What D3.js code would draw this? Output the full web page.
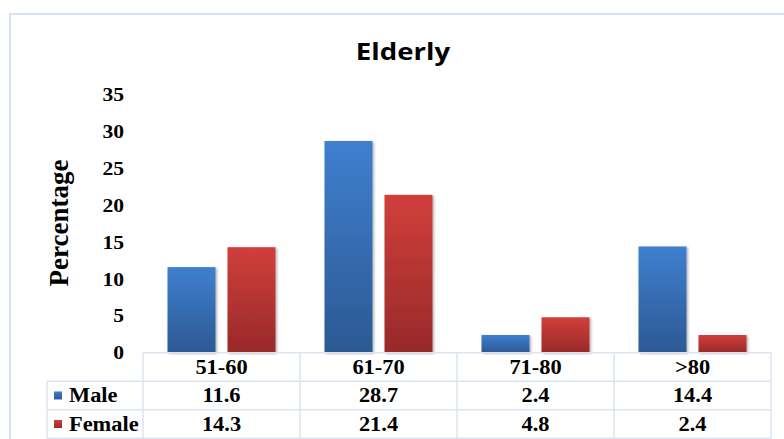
<!DOCTYPE html>
<html>
<head>
<meta charset="utf-8">
<script src="https://cdn.jsdelivr.net/npm/d3@7"></script>
<style>
  html, body { margin: 0; padding: 0; background: #fff; }
  svg { display: block; }
</style>
</head>
<body>
<svg id="chart" width="784" height="439"></svg>
<script>
// ---- data ----
const title = "Elderly";
const yLabel = "Percentage";
const categories = ["51-60", "61-70", "71-80", ">80"];
const seriesNames = ["Male", "Female"];
const maleValues = [11.6, 28.7, 2.4, 14.4];
const femaleValues = [14.3, 21.4, 4.8, 2.4];
const yTicks = [0, 5, 10, 15, 20, 25, 30, 35];

const seriesValues = [maleValues, femaleValues];
const colors = {
  Male: { top: "#3f7fcf", bottom: "#2c5993" },
  Female: { top: "#d13f3b", bottom: "#98292a" }
};

const svg = d3.select("#chart");
const W = 784, H = 439;
const serif = "'Liberation Serif', 'Times New Roman', serif";
const sans = "'Open Sans', 'Noto Sans', sans-serif";
const gridColor = "#dbe5f2";

// ---- defs ----
const defs = svg.append("defs");
seriesNames.forEach(s => {
  const g = defs.append("linearGradient").attr("id", "grad-" + s)
    .attr("x1", 0).attr("y1", 0).attr("x2", 0).attr("y2", 1);
  g.append("stop").attr("offset", "0%").attr("stop-color", colors[s].top);
  g.append("stop").attr("offset", "100%").attr("stop-color", colors[s].bottom);
});
const f = defs.append("filter").attr("id", "shadow")
  .attr("x", "-20%").attr("y", "-5%").attr("width", "140%").attr("height", "115%");
f.append("feDropShadow").attr("dx", 1.5).attr("dy", 1).attr("stdDeviation", 1.2)
  .attr("flood-color", "#000").attr("flood-opacity", 0.3);

// ---- outer frame ----
svg.append("rect").attr("x", 10).attr("y", 14).attr("width", W).attr("height", H)
  .attr("fill", "none").attr("stroke", "#d5e2f3").attr("stroke-width", 2);

// ---- scales ----
const tableLeft = 143, tableRight = 771, legendLeft = 47;
const y = d3.scaleLinear().domain([0, 35]).range([352.7, 94.5]);
const x = d3.scaleBand().domain(categories).range([tableLeft, tableRight]).paddingInner(0).paddingOuter(0);
const bw = x.bandwidth();
const groupW = 108;
const xInner = d3.scaleBand().domain(seriesNames)
  .range([bw / 2 - groupW / 2, bw / 2 + groupW / 2]).paddingInner(0.2).paddingOuter(0);

// helper for horizontally stretched text
function stretchedText(sel, tx, ty, sx) {
  return sel.attr("transform", `translate(${tx},${ty}) scale(${sx},1)`);
}

// ---- title ----
stretchedText(svg.append("text"), 403, 59.5, 1.15)
  .attr("text-anchor", "middle").attr("font-family", sans).attr("font-weight", "bold")
  .attr("font-size", 24).attr("fill", "#000").text(title);

// ---- y axis ticks (labels only) ----
const yAxis = d3.axisLeft(y).tickValues(yTicks).tickSize(0).tickPadding(0).tickFormat(d3.format("d"));
const yg = svg.append("g").attr("transform", "translate(124,0)").call(yAxis);
yg.select(".domain").remove();
yg.selectAll(".tick text")
  .attr("font-family", serif).attr("font-weight", "bold").attr("font-size", 18)
  .attr("fill", "#000").attr("x", 0).attr("dy", "0.34em")
  .attr("transform", "scale(1.2,1)");

// ---- y label ----
svg.append("text")
  .attr("transform", "translate(68,223) rotate(-90)")
  .attr("text-anchor", "middle").attr("font-family", serif).attr("font-weight", "bold")
  .attr("font-size", 27).attr("fill", "#000").text(yLabel);

// ---- bars ----
const barData = [];
categories.forEach((c, i) => {
  seriesNames.forEach((s, j) => barData.push({ cat: c, series: s, value: seriesValues[j][i] }));
});
svg.append("g").selectAll("rect").data(barData).join("rect")
  .attr("x", d => x(d.cat) + xInner(d.series))
  .attr("y", d => y(d.value))
  .attr("width", xInner.bandwidth())
  .attr("height", d => y(0) - y(d.value))
  .attr("fill", d => `url(#grad-${d.series})`)
  .attr("filter", "url(#shadow)");

// ---- data table ----
const rowH = 28.5;
const r0 = y(0);
const rows = [r0, r0 + rowH, r0 + 2 * rowH, r0 + 3 * rowH];
const tg = svg.append("g").attr("stroke", gridColor).attr("stroke-width", 1.5).attr("fill", "none");
// horizontal lines
tg.append("line").attr("x1", tableLeft).attr("x2", tableRight).attr("y1", rows[0]).attr("y2", rows[0]);
[rows[1], rows[2], rows[3]].forEach(ry =>
  tg.append("line").attr("x1", legendLeft).attr("x2", tableRight).attr("y1", ry).attr("y2", ry));
// vertical lines
tg.append("line").attr("x1", legendLeft).attr("x2", legendLeft).attr("y1", rows[1]).attr("y2", H + 5);
categories.forEach(c =>
  tg.append("line").attr("x1", x(c)).attr("x2", x(c)).attr("y1", rows[0]).attr("y2", H + 5));
tg.append("line").attr("x1", tableRight).attr("x2", tableRight).attr("y1", rows[0]).attr("y2", H + 5);

// category labels
categories.forEach(c => {
  stretchedText(svg.append("text"), x(c) + bw / 2, rows[0] + rowH / 2 + 7, 1.12)
    .attr("text-anchor", "middle").attr("font-family", serif).attr("font-weight", "bold")
    .attr("font-size", 20).attr("fill", "#000").text(c);
});
// value rows
seriesNames.forEach((s, j) => {
  const cy = rows[j + 1] + rowH / 2;
  // legend marker
  svg.append("rect").attr("x", 54).attr("y", cy - 4).attr("width", 8).attr("height", 8)
    .attr("fill", `url(#grad-${s})`);
  stretchedText(svg.append("text"), 69, cy + 7, 1.12)
    .attr("font-family", serif).attr("font-weight", "bold")
    .attr("font-size", 20).attr("fill", "#000").text(s);
  categories.forEach((c, i) => {
    stretchedText(svg.append("text"), x(c) + bw / 2, cy + 7, 1.12)
      .attr("text-anchor", "middle").attr("font-family", serif).attr("font-weight", "bold")
      .attr("font-size", 20).attr("fill", "#000").text(seriesValues[j][i].toFixed(1));
  });
});
</script>
</body>
</html>
